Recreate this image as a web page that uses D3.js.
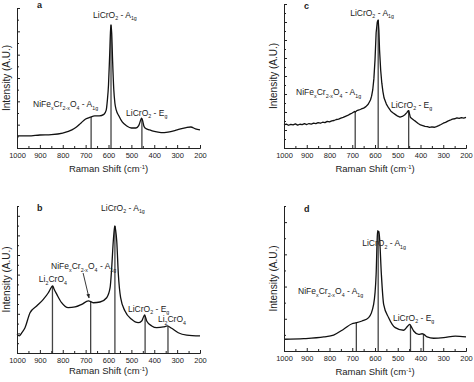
<!DOCTYPE html>
<html>
<head>
<meta charset="utf-8">
<script src="https://cdn.jsdelivr.net/npm/d3@7"></script>
<style>
    body { margin: 0; background: #fff; }
    svg { display: block; font-family: "Liberation Sans", Arial, sans-serif; }
</style>
</head>
<body>
<svg id="chart" width="474" height="382"></svg>
<script>
"use strict";

// x axis: Raman shift, cm-1 (reversed, 1000 on the left)
const xTicks = [1000, 900, 800, 700, 600, 500, 400, 300, 200];
const xMinorTicks = [950, 850, 750, 650, 550, 450, 350, 250];

// spectra as [wavenumber, intensity (A.U., 0-100 of the axis height)]
const spectrumA = [
    [1000, 8.6], [950, 8.6], [900, 9.3], [850, 9.6], [800, 10.7], [760, 12.9], [740, 15],
    [720, 17.9], [700, 20.7], [680, 22], [660, 22.9], [640, 22.9], [620, 24], [610, 27],
    [605, 34], [600, 45], [595, 66], [591, 84], [589, 88], [586, 82], [582, 62], [577, 42],
    [572, 32], [566, 27], [555, 23], [540, 18.6], [520, 15.7], [500, 14.3], [480, 14.3],
    [468, 16], [458, 20.5], [455, 21.4], [450, 19], [445, 15.5], [440, 14.3], [420, 12.9],
    [400, 11.8], [370, 11], [340, 11.4], [300, 12.9], [260, 14.6], [240, 15], [220, 13.6],
    [200, 12.9]
];
const spectrumB = [
    [1000, 12.7], [990, 11.6], [980, 13.6], [965, 17.2], [943, 27.4], [914, 32], [885, 36.5],
    [863, 41], [850, 44.6], [844, 45.6], [838, 43.5], [826, 39.9], [805, 34.2], [776, 30.8],
    [746, 31.3], [717, 33.1], [688, 35.4], [678, 35], [666, 34.2], [637, 34.7], [608, 37.6],
    [593, 44.4], [586, 58], [579, 76.2], [574, 85], [572, 86.4], [569, 83.7], [564, 76.2],
    [557, 53.7], [547, 37.6], [528, 28.6], [499, 22.9], [470, 20.6], [455, 21.8], [447, 24.5],
    [442, 25.9], [437, 23.8], [433, 21.8], [411, 18.4], [389, 17.2], [360, 17.7], [343, 18.4],
    [324, 16.8], [295, 13.8], [258, 12.2], [200, 11.6]
];
const spectrumC = [
    [1000, 16], [990, 16.6], [980, 15.8], [970, 16.4], [960, 16.1], [950, 16.7], [940, 15.9],
    [930, 16.5], [920, 16.2], [910, 16.9], [900, 16.3], [890, 17], [880, 16.6], [870, 17.2],
    [860, 16.9], [850, 17.6], [840, 17.2], [830, 17.9], [820, 17.6], [810, 18.5], [800, 18.2],
    [790, 18.9], [780, 19.1], [770, 19.8], [760, 20.1], [750, 20.8], [740, 21.3], [730, 22],
    [720, 22.6], [710, 23.5], [700, 24.3], [690, 25.4], [687, 25], [680, 25.9], [670, 26.4],
    [660, 27.1], [650, 27.7], [640, 28.7], [630, 30.4], [620, 33.3], [615, 36], [610, 40.3],
    [605, 48], [600, 61], [595, 80], [590, 87.5], [586, 88.9], [583, 82], [580, 68], [575, 54],
    [570, 45], [565, 39], [560, 34.7], [550, 30.5], [540, 27.8], [530, 25.6], [520, 24.3],
    [510, 23.2], [500, 22.1], [490, 21.5], [480, 21.9], [470, 22.9], [460, 24.6], [455, 25.7],
    [452, 26], [448, 23.5], [445, 21.5], [440, 20.6], [430, 19.4], [420, 18.3], [410, 17],
    [400, 16], [390, 15.6], [380, 15], [370, 14.8], [360, 14.3], [350, 14.6], [340, 14.4],
    [330, 14.9], [320, 15.5], [310, 16.3], [300, 17.2], [290, 17.8], [280, 18.7], [270, 19.3],
    [260, 20.1], [250, 20.3], [240, 20.9], [230, 20.6], [220, 21.1], [210, 20.8], [200, 21.3]
];
const spectrumD = [
    [1000, 8.1], [913, 8.5], [825, 9.7], [782, 11], [738, 15], [701, 18.8], [682, 19.5],
    [657, 20.7], [628, 23], [606, 32.2], [595, 52.9], [590, 79], [588, 83], [585, 81.5],
    [583, 82.5], [580, 78.1], [572, 52.9], [562, 32.2], [540, 23], [511, 16.1], [474, 14.3],
    [456, 17.2], [447, 18.4], [440, 16.6], [430, 13.8], [408, 11.5], [393, 11.9], [387, 11.7],
    [371, 9.7], [342, 8.8], [298, 9.2], [247, 10.3], [200, 9.7]
];

// assigned band positions (drop lines)
const peaksA = [676, 589, 454];
const peaksB = [845, 678, 572, 440, 340];
const peaksC = [687, 586, 452];
const peaksD = [682, 586, 444, 387];

// annotations: text, anchored at [wavenumber, intensity]
const labelsA = [
    { text: "a", wn: 913, y: 100, anchor: "start" },
    { text: "LiCrO_{2} - A_{1g}", wn: 572, y: 93, anchor: "middle" },
    { text: "NiFe_{x}Cr_{2-x}O_{4} - A_{1g}", wn: 930, y: 29, anchor: "start" },
    { text: "LiCrO_{2} - E_{g}", wn: 523, y: 23, anchor: "start" }
];
const labelsB = [
    { text: "b", wn: 913, y: 96.6, anchor: "start" },
    { text: "LiCrO_{2} - A_{1g}", wn: 537, y: 96.6, anchor: "middle" },
    { text: "NiFe_{x}Cr_{2-x}O_{4} - A_{1g}", wn: 851, y: 57, anchor: "start" },
    { text: "Li_{2}CrO_{4}", wn: 843, y: 48, anchor: "middle" },
    { text: "LiCrO_{2} - E_{g}", wn: 515, y: 27.9, anchor: "start" },
    { text: "Li_{2}CrO_{4}", wn: 384, y: 21, anchor: "start" }
];
const labelsC = [
    { text: "c", wn: 912, y: 96.5, anchor: "start" },
    { text: "LiCrO_{2} - A_{1g}", wn: 613, y: 91.7, anchor: "middle" },
    { text: "NiFe_{x}Cr_{2-x}O_{4} - A_{1g}", wn: 947, y: 36.8, anchor: "start" },
    { text: "LiCrO_{2} - E_{g}", wn: 530, y: 27.8, anchor: "start" }
];
const labelsD = [
    { text: "d", wn: 912, y: 95.9, anchor: "start" },
    { text: "LiCrO_{2} - A_{1g}", wn: 560, y: 72.4, anchor: "middle" },
    { text: "NiFe_{x}Cr_{2-x}O_{4} - A_{1g}", wn: 938, y: 39.3, anchor: "start" },
    { text: "LiCrO_{2} - E_{g}", wn: 521, y: 20.7, anchor: "start" }
];
// arrow in panel b pointing at the spinel band
const arrowB = [[711, 54.4], [685, 37.4]];

(function () {
    window.addEventListener("load", init);

    function init() {
        const svg = d3.select("#chart");

        svg.append("defs").append("marker")
            .attr("id", "arrow")
            .attr("viewBox", "0 0 10 10")
            .attr("refX", 9).attr("refY", 5)
            .attr("markerWidth", 5).attr("markerHeight", 5)
            .attr("orient", "auto")
            .append("path")
            .attr("d", "M0,1 L10,5 L0,9 Z")
            .attr("fill", "#222");

        const panels = [
            { data: spectrumA, peaks: peaksA, labels: labelsA, nY: 12, left: 17, right: 200, top: 8, bottom: 148, titleGap: 24, curve: d3.curveMonotoneX },
            { data: spectrumC, peaks: peaksC, labels: labelsC, nY: 16, left: 284, right: 466, top: 4, bottom: 148, titleGap: 24, curve: d3.curveLinear },
            { data: spectrumB, peaks: peaksB, labels: labelsB, nY: 15, left: 17, right: 200, top: 206, bottom: 353, titleGap: 21, curve: d3.curveMonotoneX, arrow: arrowB },
            { data: spectrumD, peaks: peaksD, labels: labelsD, nY: 9, left: 284, right: 466, top: 206, bottom: 351, titleGap: 24, curve: d3.curveMonotoneX }
        ];

        panels.forEach(p => drawPanel(svg, p));
    }

    function drawPanel(svg, p) {
        const x = d3.scaleLinear().domain([1000, 200]).range([p.left, p.right]);
        const y = d3.scaleLinear().domain([0, 100]).range([p.bottom, p.top]);
        const g = svg.append("g");

        // drop lines under the assigned bands
        const bisect = d3.bisector(d => -d[0]).left;
        const valueAt = wn => {
            const i = Math.max(1, Math.min(p.data.length - 1, bisect(p.data, -wn)));
            const a = p.data[i - 1], b = p.data[i];
            const t = (a[0] - wn) / (a[0] - b[0]);
            return a[1] + t * (b[1] - a[1]);
        };
        g.selectAll(".peak")
            .data(p.peaks)
            .enter()
            .append("line")
            .attr("x1", d => x(d)).attr("x2", d => x(d))
            .attr("y1", y(0)).attr("y2", d => y(valueAt(d)))
            .attr("stroke", "#444")
            .attr("stroke-width", 1.3);

        // spectrum
        const line = d3.line()
            .x(d => x(d[0]))
            .y(d => y(d[1]))
            .curve(p.curve);
        g.append("path")
            .datum(p.data)
            .attr("d", line)
            .attr("fill", "none")
            .attr("stroke", "#111")
            .attr("stroke-width", 1.3)
            .attr("stroke-linejoin", "round");

        // x axis, ticks pointing inward
        const xAxis = g.append("g")
            .attr("transform", `translate(0,${p.bottom})`)
            .call(d3.axisBottom(x).tickValues(xTicks).tickSize(-3).tickPadding(5).tickFormat(d3.format("d")));
        g.append("g")
            .attr("transform", `translate(0,${p.bottom})`)
            .call(d3.axisBottom(x).tickValues(xMinorTicks).tickSize(-2).tickFormat(""))
            .call(s => s.select(".domain").remove());
        xAxis.selectAll("text").attr("font-size", 7.5).attr("fill", "#222")
            .attr("font-family", "Liberation Sans, Arial, sans-serif");

        // y axis, unlabelled ticks alternating long/short
        const yTicks = d3.range(0, p.nY + 1).map(i => i * 100 / p.nY);
        const yAxis = g.append("g")
            .attr("transform", `translate(${p.left},0)`)
            .call(d3.axisLeft(y).tickValues(yTicks).tickSize(0).tickFormat(""));
        yAxis.selectAll(".tick line")
            .attr("x2", (d, i) => i % 2 === 0 ? 3 : 2);

        g.selectAll(".domain, .tick line")
            .attr("stroke", "#222")
            .attr("stroke-width", 1);

        // axis titles
        const xt = g.append("text")
            .attr("x", (p.left + p.right) / 2)
            .attr("y", p.bottom + p.titleGap)
            .attr("text-anchor", "middle")
            .attr("font-size", 9.5)
            .attr("fill", "#222");
        richText(xt, "Raman Shift (cm^{-1})");

        g.append("text")
            .attr("transform", `translate(${p.left - 7},${(p.top + p.bottom) / 2}) rotate(-90)`)
            .attr("text-anchor", "middle")
            .attr("font-size", 10)
            .attr("fill", "#222")
            .text("Intensity (A.U.)");

        // annotations
        p.labels.forEach(l => {
            const single = l.text.length === 1;
            const t = g.append("text")
                .attr("x", x(l.wn))
                .attr("y", y(l.y))
                .attr("text-anchor", l.anchor)
                .attr("font-size", single ? 9 : 8.5)
                .attr("font-weight", single ? "bold" : "normal")
                .attr("fill", "#222");
            richText(t, l.text);
        });

        if (p.arrow) {
            g.append("line")
                .attr("x1", x(p.arrow[0][0])).attr("y1", y(p.arrow[0][1]))
                .attr("x2", x(p.arrow[1][0])).attr("y2", y(p.arrow[1][1]))
                .attr("stroke", "#222")
                .attr("stroke-width", 0.9)
                .attr("marker-end", "url(#arrow)");
        }
    }

    // "_{..}" -> subscript, "^{..}" -> superscript
    function richText(sel, str) {
        const parts = str.split(/(_\{[^}]*\}|\^\{[^}]*\})/).filter(s => s.length);
        let shift = 0;
        parts.forEach(s => {
            let dy = 0, txt = s, small = false;
            if (s.startsWith("_{")) { dy = 2.5; txt = s.slice(2, -1); small = true; }
            else if (s.startsWith("^{")) { dy = -3.5; txt = s.slice(2, -1); small = true; }
            const ts = sel.append("tspan")
                .attr("dy", dy - shift)
                .text(txt);
            if (small) ts.attr("font-size", "0.62em");
            shift = dy;
        });
    }
})();
</script>
</body>
</html>
